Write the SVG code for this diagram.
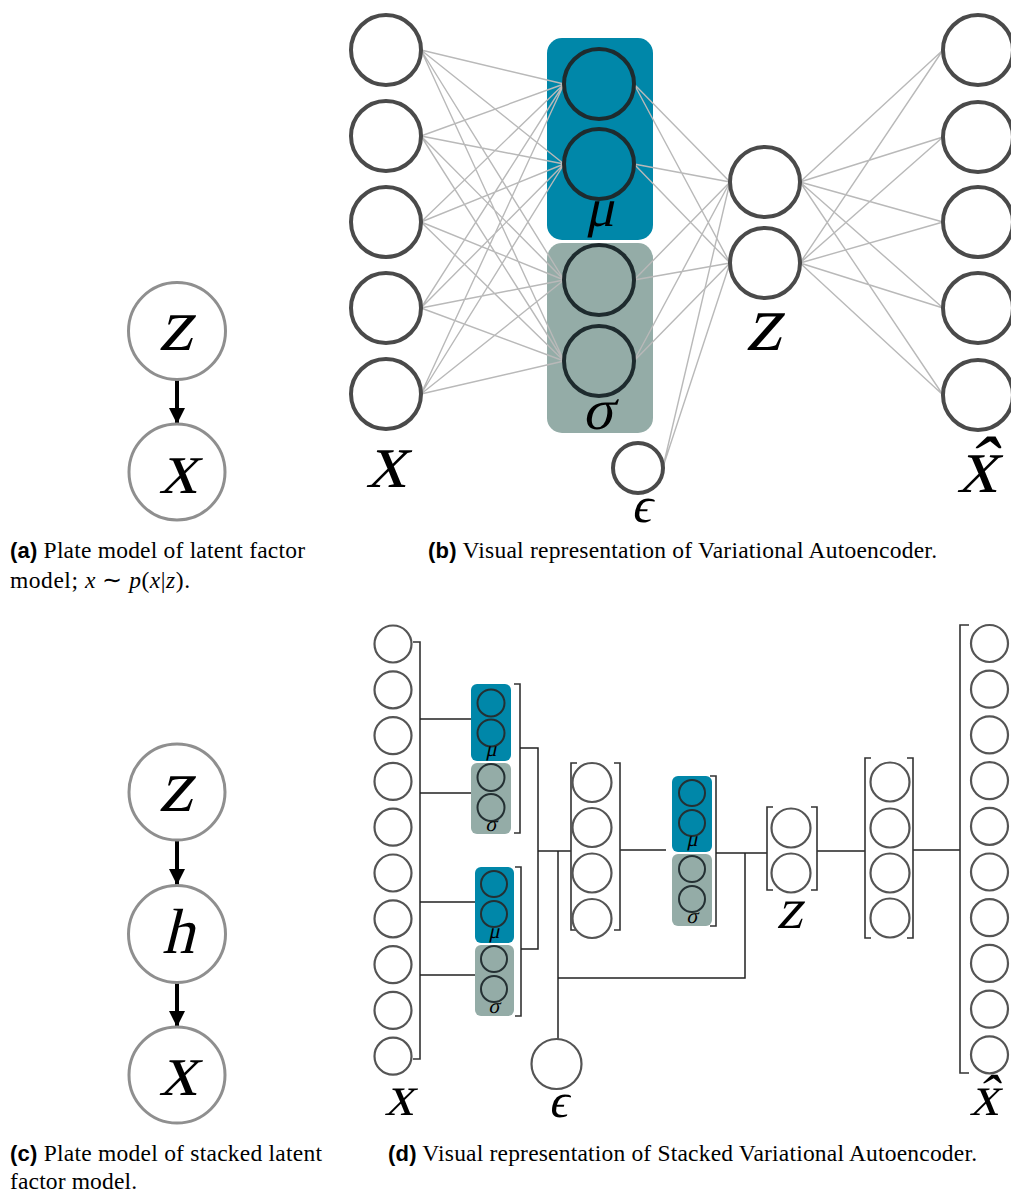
<svg xmlns="http://www.w3.org/2000/svg" width="1011" height="1193" viewBox="0 0 1011 1193">
  <style>
    .bg { fill: #ffffff; }
    .plate { fill: #ffffff; stroke: #8f8f8f; stroke-width: 3; }
    .arrow { stroke: #000000; stroke-width: 4; fill: none; }
    .big { fill: #ffffff; stroke: #4a4a4a; stroke-width: 4; }
    .inner { fill: none; stroke: #1e2b2e; stroke-width: 4; }
    .mu { fill: #0087a9; }
    .sigma { fill: #94aca7; }
    .edge { stroke: #b9b9b9; stroke-width: 1.4; fill: none; }
    .small { fill: #ffffff; stroke: #555555; stroke-width: 2.2; }
    .smallin { fill: none; stroke: #243033; stroke-width: 2; }
    .wire { stroke: #222222; stroke-width: 1.5; fill: none; }
    .brk { stroke: #333333; stroke-width: 1.6; fill: none; }
    .math { font-family: "Liberation Serif", "DejaVu Serif", serif; fill: #000000; text-anchor: middle; }
    .cap { font-family: "Liberation Serif", "Times New Roman", serif; font-size: 23.5px; fill: #000000; }
    .capb { font-family: "Liberation Sans", Arial, sans-serif; font-weight: bold; font-size: 22px; }
    .it { font-style: italic; }
  </style>
  <defs>
    <marker id="head" viewBox="0 0 10 10" refX="10" refY="5" markerWidth="4" markerHeight="4" markerUnits="strokeWidth" orient="auto">
      <path d="M0,0 L10,5 L0,10 z" fill="#000000"/>
    </marker>
  </defs>
  <rect class="bg" x="0" y="0" width="1011" height="1193"/>

  <!-- (a) plate model z -> x -->
  <g id="plateA">
    <g id="plateA-edges">
      <line class="arrow" x1="177" y1="379" x2="177" y2="424" marker-end="url(#head)"/>
    </g>
    <g id="plateA-z">
      <circle class="plate" cx="177" cy="331" r="48.5"/>
      <text class="math" transform="translate(175,350) skewX(-14)" font-size="76">z</text>
    </g>
    <g id="plateA-x">
      <circle class="plate" cx="177" cy="472" r="48"/>
      <text class="math" transform="translate(178,493) skewX(-14)" font-size="76">x</text>
    </g>
  </g>
  <text class="cap" x="10" y="558" textLength="295" lengthAdjust="spacing"><tspan class="capb">(a)</tspan> Plate model of latent factor</text>
  <text class="cap" x="10" y="588" textLength="180" lengthAdjust="spacing">model; <tspan class="it">x</tspan> ∼ <tspan class="it">p</tspan>(<tspan class="it">x</tspan>|<tspan class="it">z</tspan>).</text>

  <!-- (b) variational autoencoder -->
  <g id="vae">
    <g id="vae-boxes">
      <rect id="vae-mu-box" class="mu" x="547" y="38" width="106" height="202" rx="15"/>
      <rect id="vae-sigma-box" class="sigma" x="547" y="243" width="106" height="190" rx="15"/>
    </g>
    <g id="vae-edges">
      <!-- input layer to mu / sigma units -->
      <path class="edge" d="M421,50 L564,84 M421,50 L564,164 M421,50 L564,280 M421,50 L564,361
        M421,136 L564,84 M421,136 L564,164 M421,136 L564,280 M421,136 L564,361
        M421,222 L564,84 M421,222 L564,164 M421,222 L564,280 M421,222 L564,361
        M421,308 L564,84 M421,308 L564,164 M421,308 L564,280 M421,308 L564,361
        M421,394 L564,84 M421,394 L564,164 M421,394 L564,280 M421,394 L564,361"/>
      <!-- mu / sigma units to z -->
      <path class="edge" d="M634,84 L730,182 M634,84 L730,263 M634,164 L730,182 M634,164 L730,263
        M634,280 L730,182 M634,280 L730,263 M634,361 L730,182 M634,361 L730,263"/>
      <!-- noise to z -->
      <path class="edge" d="M663,467 L730,182 M663,467 L730,263"/>
      <!-- z to reconstruction -->
      <path class="edge" d="M800,182 L943,50 M800,182 L943,137 M800,182 L943,222 M800,182 L943,308 M800,182 L943,395
        M800,263 L943,50 M800,263 L943,137 M800,263 L943,222 M800,263 L943,308 M800,263 L943,395"/>
    </g>
    <g id="vae-x">
      <circle class="big" cx="386" cy="50" r="35"/>
      <circle class="big" cx="386" cy="136" r="35"/>
      <circle class="big" cx="386" cy="222" r="35"/>
      <circle class="big" cx="386" cy="308" r="35"/>
      <circle class="big" cx="386" cy="394" r="35"/>
      <text class="math" transform="translate(386,487) skewX(-14)" font-size="80">x</text>
    </g>
    <g id="vae-mu">
      <circle class="inner" cx="599" cy="84" r="35"/>
      <circle class="inner" cx="599" cy="164" r="35"/>
      <text class="math" transform="translate(600,226) skewX(-12)" font-size="54">μ</text>
    </g>
    <g id="vae-sigma">
      <circle class="inner" cx="599" cy="280" r="35"/>
      <circle class="inner" cx="599" cy="361" r="35"/>
      <text class="math" transform="translate(598,429) skewX(-12)" font-size="58">σ</text>
    </g>
    <g id="vae-eps">
      <circle class="big" cx="638" cy="468" r="25" stroke-width="3"/>
      <text class="math" transform="translate(641,522) skewX(-12)" font-size="50">ϵ</text>
    </g>
    <g id="vae-z">
      <circle class="big" cx="765" cy="182" r="35"/>
      <circle class="big" cx="765" cy="263" r="35"/>
      <text class="math" transform="translate(763,350) skewX(-14)" font-size="80">z</text>
    </g>
    <g id="vae-xhat">
      <circle class="big" cx="978" cy="50" r="35"/>
      <circle class="big" cx="978" cy="137" r="35"/>
      <circle class="big" cx="978" cy="222" r="35"/>
      <circle class="big" cx="978" cy="308" r="35"/>
      <circle class="big" cx="978" cy="395" r="35"/>
      <text class="math" transform="translate(977,492) skewX(-14)" font-size="80">x&#x302;</text>
    </g>
  </g>
  <text class="cap" x="428" y="558" textLength="509" lengthAdjust="spacing"><tspan class="capb">(b)</tspan> Visual representation of Variational Autoencoder.</text>

  <!-- (c) plate model z -> h -> x -->
  <g id="plateC">
    <g id="plateC-edges">
      <line class="arrow" x1="177" y1="840" x2="177" y2="885" marker-end="url(#head)"/>
      <line class="arrow" x1="177" y1="982" x2="177" y2="1027" marker-end="url(#head)"/>
    </g>
    <g id="plateC-z">
      <circle class="plate" cx="177" cy="792" r="48"/>
      <text class="math" transform="translate(175,811) skewX(-14)" font-size="76">z</text>
    </g>
    <g id="plateC-h">
      <circle class="plate" cx="177" cy="934" r="48.5"/>
      <text class="math" transform="translate(178,953) skewX(-14)" font-size="64">h</text>
    </g>
    <g id="plateC-x">
      <circle class="plate" cx="177" cy="1075" r="48"/>
      <text class="math" transform="translate(178,1095) skewX(-14)" font-size="76">x</text>
    </g>
  </g>
  <text class="cap" x="10" y="1161" textLength="312" lengthAdjust="spacing"><tspan class="capb">(c)</tspan> Plate model of stacked latent</text>
  <text class="cap" x="10" y="1189" textLength="127" lengthAdjust="spacing">factor model.</text>

  <!-- (d) stacked variational autoencoder -->
  <g id="svae">
    <g id="svae-wires">
      <path class="brk" d="M413,642 H420 V1059 H413"/>
      <path class="wire" d="M420,719 H471 M420,793 H471 M420,902 H475 M420,975 H475"/>
      <path class="brk" d="M514,684 H520 V833 H514"/>
      <path class="brk" d="M515,867 H521 V1016 H515"/>
      <path class="wire" d="M520,748 H538 V949 H521"/>
      <path class="wire" d="M538,851 H571"/>
      <path class="wire" d="M558,851 V1039"/>
      <path class="wire" d="M558,978 H745 V853"/>
      <path class="wire" d="M620,850 H666"/>
      <path class="brk" d="M710,776 H716 V926 H710"/>
      <path class="wire" d="M716,853 H767"/>
      <path class="wire" d="M817,851 H865"/>
      <path class="wire" d="M913,850 H960"/>
    </g>
    <g id="svae-x">
      <circle class="small" cx="393" cy="644" r="18.5"/>
      <circle class="small" cx="393" cy="689.8" r="18.5"/>
      <circle class="small" cx="393" cy="735.6" r="18.5"/>
      <circle class="small" cx="393" cy="781.4" r="18.5"/>
      <circle class="small" cx="393" cy="827.2" r="18.5"/>
      <circle class="small" cx="393" cy="873" r="18.5"/>
      <circle class="small" cx="393" cy="918.8" r="18.5"/>
      <circle class="small" cx="393" cy="964.6" r="18.5"/>
      <circle class="small" cx="393" cy="1010.4" r="18.5"/>
      <circle class="small" cx="393" cy="1056.2" r="18.5"/>
      <text class="math" transform="translate(399,1115) skewX(-14)" font-size="58">x</text>
    </g>
    <g id="svae-enc1a">
      <rect class="mu" x="471" y="684" width="40" height="77" rx="6"/>
      <rect class="sigma" x="471" y="763" width="40" height="71" rx="6"/>
      <circle class="smallin" cx="491" cy="703" r="13.5"/>
      <circle class="smallin" cx="491" cy="733" r="13.5"/>
      <circle class="smallin" cx="491" cy="777.5" r="13.5"/>
      <circle class="smallin" cx="491" cy="807.5" r="13.5"/>
      <text class="math" transform="translate(491,756) skewX(-12)" font-size="21">μ</text>
      <text class="math" transform="translate(491,831) skewX(-12)" font-size="21">σ</text>
    </g>
    <g id="svae-enc1b">
      <rect class="mu" x="475" y="867" width="39" height="76" rx="6"/>
      <rect class="sigma" x="475" y="945" width="39" height="71" rx="6"/>
      <circle class="smallin" cx="494" cy="884" r="13"/>
      <circle class="smallin" cx="494" cy="914" r="13"/>
      <circle class="smallin" cx="494" cy="959" r="13"/>
      <circle class="smallin" cx="494" cy="989" r="13"/>
      <text class="math" transform="translate(494,938) skewX(-12)" font-size="21">μ</text>
      <text class="math" transform="translate(494,1013) skewX(-12)" font-size="21">σ</text>
    </g>
    <g id="svae-eps">
      <circle class="small" cx="556.5" cy="1064" r="25" stroke-width="3"/>
      <text class="math" transform="translate(558,1117) skewX(-12)" font-size="48">ϵ</text>
    </g>
    <g id="svae-h">
      <path class="brk" d="M577,763 H571 V930 H577"/>
      <path class="brk" d="M614,763 H620 V930 H614"/>
      <circle class="small" cx="592" cy="782.5" r="19.5"/>
      <circle class="small" cx="592" cy="827.5" r="19.5"/>
      <circle class="small" cx="592" cy="873" r="19.5"/>
      <circle class="small" cx="592" cy="918.5" r="19.5"/>
    </g>
    <g id="svae-enc2">
      <rect class="mu" x="672" y="776" width="40" height="76" rx="6"/>
      <rect class="sigma" x="672" y="854" width="40" height="72" rx="6"/>
      <circle class="smallin" cx="692" cy="793" r="13"/>
      <circle class="smallin" cx="692" cy="823" r="13"/>
      <circle class="smallin" cx="692" cy="869" r="13"/>
      <circle class="smallin" cx="692" cy="899" r="13"/>
      <text class="math" transform="translate(692,846) skewX(-12)" font-size="21">μ</text>
      <text class="math" transform="translate(692,923) skewX(-12)" font-size="21">σ</text>
    </g>
    <g id="svae-z">
      <path class="brk" d="M773,807 H767 V890 H773"/>
      <path class="brk" d="M811,807 H817 V890 H811"/>
      <circle class="small" cx="791" cy="828" r="19.5"/>
      <circle class="small" cx="791" cy="873" r="19.5"/>
      <text class="math" transform="translate(789,928) skewX(-14)" font-size="58">z</text>
    </g>
    <g id="svae-dec">
      <path class="brk" d="M871,758 H865 V938 H871"/>
      <path class="brk" d="M907,758 H913 V938 H907"/>
      <circle class="small" cx="890" cy="782" r="19.5"/>
      <circle class="small" cx="890" cy="828" r="19.5"/>
      <circle class="small" cx="890" cy="873" r="19.5"/>
      <circle class="small" cx="890" cy="918" r="19.5"/>
    </g>
    <g id="svae-xhat">
      <path class="brk" d="M969,625 H960 V1073 H969"/>
      <circle class="small" cx="989.5" cy="643.5" r="18.5"/>
      <circle class="small" cx="989.5" cy="689.2" r="18.5"/>
      <circle class="small" cx="989.5" cy="734.9" r="18.5"/>
      <circle class="small" cx="989.5" cy="780.6" r="18.5"/>
      <circle class="small" cx="989.5" cy="826.3" r="18.5"/>
      <circle class="small" cx="989.5" cy="872" r="18.5"/>
      <circle class="small" cx="989.5" cy="917.7" r="18.5"/>
      <circle class="small" cx="989.5" cy="963.4" r="18.5"/>
      <circle class="small" cx="989.5" cy="1009.1" r="18.5"/>
      <circle class="small" cx="989.5" cy="1054.8" r="18.5"/>
      <text class="math" transform="translate(984,1115) skewX(-14)" font-size="58">x&#x302;</text>
    </g>
  </g>
  <text class="cap" x="388" y="1161" textLength="589" lengthAdjust="spacing"><tspan class="capb">(d)</tspan> Visual representation of Stacked Variational Autoencoder.</text>
</svg>
